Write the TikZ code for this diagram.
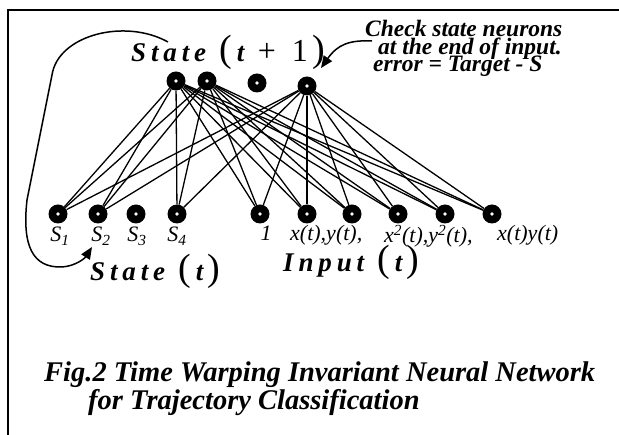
\documentclass[tikz,border=0pt]{standalone}
\usepackage{fontspec}
\setmainfont{Liberation Serif}
\newfontfamily\spacedfont[LetterSpace=18]{Liberation Serif}
\usetikzlibrary{arrows.meta}
\newcommand{\bigpar}[1]{{\fontsize{38}{38}\selectfont\upshape\mdseries#1}}

\tikzset{
  neuron/.style={circle, fill=black, minimum size=19pt, inner sep=0pt,
    path picture={\fill[white] (path picture bounding box.center) circle (1.8pt);}},
  synapse/.style={line width=1.3pt},
  feedback/.style={line width=1.5pt, -{Triangle[length=12pt,width=10pt]}},
  lbl/.style={anchor=base, inner sep=0pt,
    font=\fontsize{22}{24}\selectfont\itshape},
  layerlbl/.style={anchor=base west, inner sep=0pt,
    font=\fontsize{27}{25}\selectfont\bfseries\itshape},
  note/.style={anchor=base west, inner sep=0pt,
    font=\fontsize{23.5}{17}\selectfont\bfseries\itshape},
  caption/.style={anchor=base west, inner sep=0pt,
    font=\fontsize{28.5}{30}\selectfont\bfseries\itshape},
}

\begin{document}
\begin{tikzpicture}[x=1pt,y=-1pt]
  \useasboundingbox (0,0) rectangle (619,435);
  \draw[line width=1.2pt] (619,10) -- (8,10) -- (8,435);

  % state (t+1)
  \node[neuron] (t1) at (176,81) {};
  \node[neuron] (t2) at (207,81) {};
  \node[neuron] (t3) at (257,83) {};
  \node[neuron] (t4) at (307,86) {};

  % state (t) and input (t)
  \foreach \n/\x in {s1/58, s2/98, s3/136, s4/177, one/260,
                     inx/307, iny/352, inxsq/398, inysq/445, inxy/492}
    \node[neuron] (\n) at (\x,214) {};

  \foreach \t in {t1,t2,t4}
    \foreach \b in {s1,s2,s4,one,inx,iny,inxsq,inysq,inxy}
      \draw[synapse] (\t) -- (\b);

  % labels
  \node[lbl] (s1lbl) at (60,242) {S\textsubscript{1}};
  \node[lbl] (s2lbl) at (101,242) {S\textsubscript{2}};
  \node[lbl] (s3lbl) at (137,242) {S\textsubscript{3}};
  \node[lbl] (s4lbl) at (177,242) {S\textsubscript{4}};
  \node[lbl] (onelbl) at (266,241) {1};
  \node[lbl, anchor=base west] (xylbl) at (290,241) {x(t),y(t),};
  \node[lbl, anchor=base west] (sqlbl) at (384,243)
    {x\textsuperscript{2}(t),y\textsuperscript{2}(t),};
  \node[lbl, anchor=base west] (prodlbl) at (497,241) {x(t)y(t)};

  \node[layerlbl] (nextlbl) at (131,62)
    {{\spacedfont State}\enspace\bigpar{(}\,t\enspace{\upshape\mdseries\fontsize{32}{32}\selectfont+\enspace1}\,\bigpar{)}};
  \node[layerlbl] (statelbl) at (90,281)
    {{\spacedfont State}\enspace\bigpar{(}\,t\,\bigpar{)}};
  \node[layerlbl] (inputlbl) at (283,272)
    {{\spacedfont Input}\enspace\bigpar{(}\,t\,\bigpar{)}};

  \node[note] (chk1) at (365,37) {Check state neurons};
  \node[note] (chk2) at (378,55) {at the end of input.};
  \node[note] (chk3) at (373,72) {error = Target - S};

  \node[caption] (cap1) at (44,382) {Fig.2 Time Warping Invariant Neural Network};
  \node[caption] (cap2) at (88,410) {for Trajectory Classification};

  % arrows
  \coordinate (fbstart) at (168,42);
  \coordinate (fbend) at (92,247);
  \draw[feedback] (fbstart) .. controls (125,18) and (58,35) .. (52,75)
    -- (27,200) .. controls (22,245) and (32,268) .. (62,267)
    .. controls (76,266) and (85,258) .. (fbend);
  \coordinate (chkstart) at (372,41);
  \coordinate (chkend) at (321,68);
  \draw[feedback] (chkstart) .. controls (350,40) and (338,44) .. (chkend);
\end{tikzpicture}
\end{document}
